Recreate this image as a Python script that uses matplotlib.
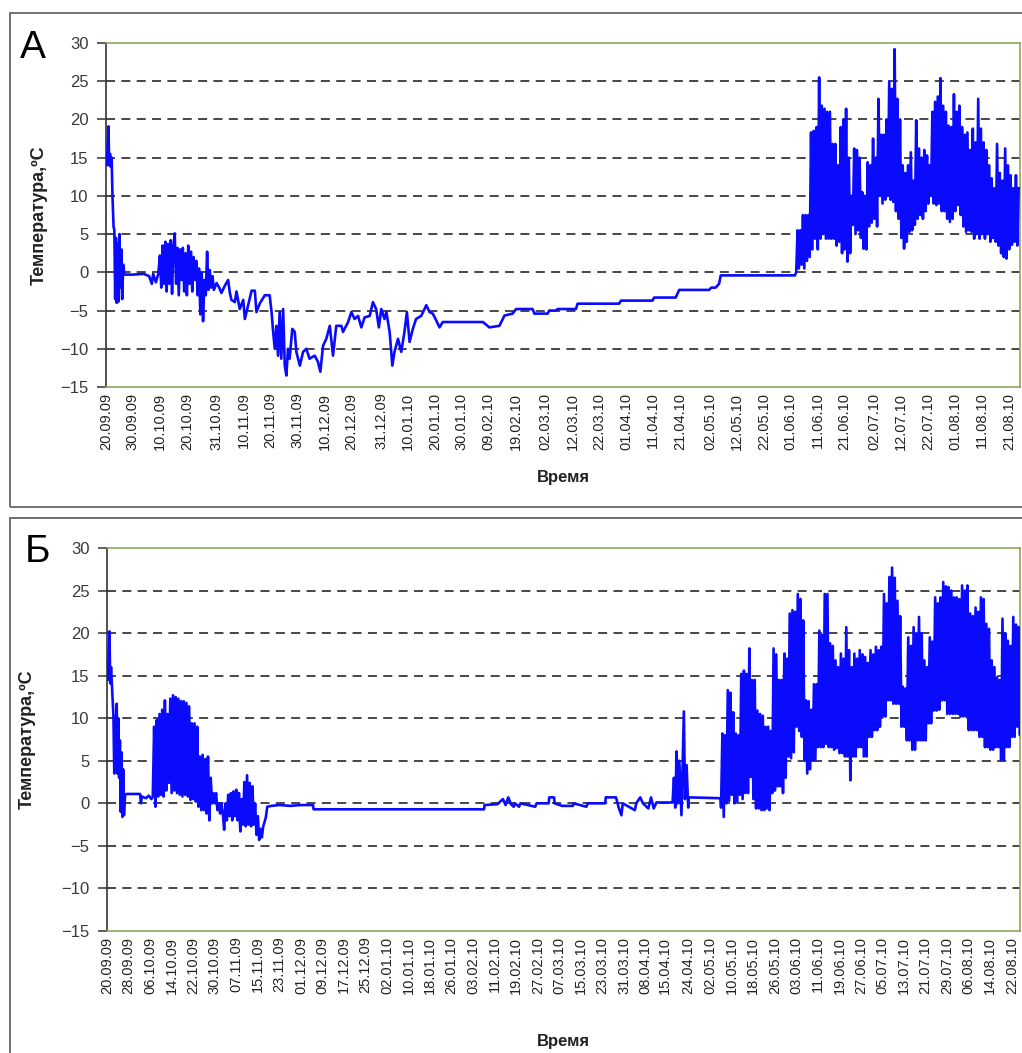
import matplotlib
matplotlib.use('Agg')
import matplotlib.pyplot as plt
from matplotlib.patches import Rectangle
import pandas as pd

plt.rcParams['font.family'] = ['Liberation Sans', 'DejaVu Sans']

START = pd.Timestamp('2009-09-20')
W, H = 1022, 1053

# ---- panel A: time in days since 20.09.09, temperature in C ----
a_days = [0.0, 0.3, 0.6, 0.9, 1.2, 1.5, 1.8, 2.1, 2.4, 2.8, 3.1, 3.4, 3.7, 4.0, 4.3, 4.7,
          5.0, 5.3, 5.7, 6.0, 6.4, 6.8, 10, 14, 16, 17, 17.5, 18.5, 19.4,
          20.0, 20.5, 21.0, 21.5, 22.0, 22.5, 23.0, 23.5, 24.0, 24.5, 25.0, 25.5, 26.0, 26.5,
          27.0, 27.5, 28.0, 28.5, 29.0, 29.5, 30.0, 30.5, 31.0, 31.5, 32.0, 32.5, 33.0, 33.5,
          34.0, 34.5, 35.0, 35.5, 36.0, 36.5, 37.0, 37.5, 38.0, 38.5, 39.0, 39.5, 40.0,
          41.0, 42.0, 42.8, 44.0, 45.3, 45.9, 46.5, 47.8, 48.4, 49.6, 50.9, 51.5, 52.7, 54.0,
          55.2, 55.8, 57.0, 58.9, 60.7, 61.4, 62.0, 62.6, 63.2, 63.8, 64.4, 65.0, 65.7, 66.3,
          66.9, 67.5, 68.1, 69.1, 70.0, 70.6, 71.9, 73.1, 74.3, 75.5, 77.4, 78.6, 79.5, 80.5,
          81.7, 83.0, 84.2, 85.4, 87.3, 87.9, 89.8, 91.0, 92.2, 93.5, 94.7, 95.9, 97.8, 99.0,
          100.2, 101.2, 102.1, 103.3, 104.0, 105.2, 106.2, 107.0, 108.3, 109.5, 110.7, 111.6,
          112.6, 113.8, 115.0, 116.9, 118.8, 120.0, 121.2, 122.5, 123.7, 124.9, 139.8, 142.2,
          145.9, 147.8, 150.8, 152.1, 158.2, 158.9, 163.8, 164.4, 166.9, 167.5, 174.3, 174.9,
          190.3, 191.0, 202.7, 203.3, 211.3, 212.6, 223.7, 224.5, 226.1, 227.4, 228.0, 255.5]
a_temp = [15.5, 14, 16, 19.1, 14, 15.5, 13.8, 15, 10, 6, 5.5, -3.5, 4.5, -4, 3.8, -3.8,
          5, -2, 3, -3.5, 1, -0.3, -0.3, -0.2, -0.5, -1.5, -0.2, -1.3, -0.2,
          2.2, -2, 3.5, -1.5, 4, -2.5, 3.7, -1.5, 4.2, -2.8, 3.5, 5.1, -1.5, 3.2,
          -3, 3, -1, 3.2, -2.5, 2.5, -3, 3.5, -1.5, 2.7, -2.5, 2, -1, 1.5,
          -3, 0.5, -5.5, 0, -6.4, -1, -3, 2.7, -2.3, 0.3, -2, -0.5, -2.3,
          -1.4, -2, -2.7, -1.8, -1, -2.6, -3.6, -3.9, -2.5, -4.8, -3.6, -6.1, -4.3, -2.4,
          -2.4, -5.2, -4.1, -3, -3, -5.2, -7.8, -10, -7, -10.9, -5.2, -11.3, -4.8, -12.2,
          -13.5, -10, -11.3, -7.4, -7.8, -10.4, -12.2, -10.4, -10, -11.3, -10.9, -11.7, -13, -9.6,
          -8.7, -7, -10.9, -7, -7, -7.8, -6.5, -5.2, -6.1, -5.7, -7.2, -5.9, -5.7, -3.9,
          -4.8, -7.2, -4.8, -6.1, -5.2, -7.8, -12.2, -10.4, -8.7, -10.4, -7.8, -5.2,
          -9.1, -7.4, -6.1, -5.7, -4.3, -5.2, -5.4, -6.3, -7.2, -6.5, -6.5, -7.2,
          -7, -5.65, -5.4, -4.8, -4.8, -5.4, -5.4, -5.0, -5.0, -4.8, -4.8, -4.1,
          -4.1, -3.7, -3.7, -3.3, -3.3, -2.3, -2.3, -2.0, -2.0, -1.5, -0.4, -0.4]
a_sum_start = 256
a_sum_hi = [5.5, 5.5, 7.5, 7.5, 7.5, 18.3, 18.5, 19, 25.5, 21.8,
            21.4, 21, 21, 16.8, 16.8, 14, 19, 20, 21.4, 15,
            10, 16.2, 16, 15, 10.5, 10, 14.4, 14, 17.5, 15,
            22.7, 18, 18, 20, 25, 24, 29.2, 22.7, 20, 14,
            13, 14, 15.7, 12, 19.9, 16.2, 15, 16, 15.3, 14,
            21, 22.3, 23, 25.4, 21.8, 21, 19.2, 19, 23.3, 21,
            21.8, 19, 18, 18.3, 16, 18.8, 17, 22.7, 18.8, 17,
            16, 14, 12.3, 11, 16.8, 13, 12, 16.2, 14, 12.7,
            11, 12.7, 11]
a_sum_lo = [0, 0.5, 1, 0.5, 1.5, 2, 3, 4.4, 3, 4.4,
            5, 4.4, 4.4, 4.4, 4.4, 3.5, 4, 2.5, 3, 1.4,
            2.5, 6.2, 5, 5.5, 4.5, 3.1, 3, 6, 6.5, 7,
            6, 10, 9, 9.5, 10, 9.5, 9.2, 8, 7, 4.5,
            3.1, 4, 5.3, 5.5, 6.2, 7, 7.5, 7, 8, 9,
            10, 9, 8.8, 9, 8, 8, 7, 6.6, 7, 8,
            8.8, 7.5, 6, 5.3, 5.5, 5.3, 4.4, 5, 4.4, 5,
            4.4, 5, 4, 4.5, 4, 3.5, 2.5, 2, 1.8, 3,
            3.6, 4, 3.5]
a_labels = ['20.09.09', '30.09.09', '10.10.09', '20.10.09', '31.10.09', '10.11.09', '20.11.09',
            '30.11.09', '10.12.09', '20.12.09', '31.12.09', '10.01.10', '20.01.10', '30.01.10',
            '09.02.10', '19.02.10', '02.03.10', '12.03.10', '22.03.10', '01.04.10', '11.04.10',
            '21.04.10', '02.05.10', '12.05.10', '22.05.10', '01.06.10', '11.06.10', '21.06.10',
            '02.07.10', '12.07.10', '22.07.10', '01.08.10', '11.08.10', '21.08.10']

# ---- panel B ----
b_days = [0.0, 0.3, 0.6, 0.9, 1.2, 1.5, 1.8, 2.1, 2.4, 2.7, 3.0, 3.3, 3.6, 3.9, 4.2, 4.5,
          4.8, 5.1, 5.4, 5.7, 6.0, 6.3, 6.7, 7.3, 12.3, 12.6, 12.9, 14.5, 15.5, 16.5, 17.0,
          17.5, 18.0, 18.5, 19.0, 19.5, 20.0, 20.5, 21.0, 21.5, 22.0, 22.5, 23.0, 23.5, 24.0,
          24.5, 25.0, 25.5, 26.0, 26.5, 27.0, 27.5, 28.0, 28.5, 29.0, 29.5, 30.0, 30.5, 31.0,
          31.5, 32.0, 32.5, 33.0, 33.5, 34.0, 34.5, 35.0, 35.5, 36.0, 36.5, 37.0, 37.5, 38.0,
          38.5, 39.0, 39.5, 40.0, 40.5, 41.0, 41.5, 42.0, 42.5, 43.0, 43.5, 44.0, 44.5, 45.0,
          45.5, 46.0, 46.5, 47.0, 47.5, 48.0, 48.5, 49.0, 49.5, 50.0, 50.5, 51.0, 51.5, 52.0,
          52.5, 53.0, 53.5, 54.0, 54.5, 55.0, 55.5, 56.0, 56.5, 57.0, 57.5, 58.0, 58.5, 59.0,
          59.5, 61, 64, 68, 72, 76.5, 76.7, 140, 140.2, 145, 147, 148, 149, 150, 151, 151.5,
          153, 153.5, 159, 159.5, 164, 164.2, 166, 166.2, 169, 173, 173.2, 178, 178.5, 185,
          185.2, 189, 190, 191, 191.5, 196, 196.5, 198, 199, 201, 202, 203, 204, 210, 210.5,
          211, 211.5, 212, 212.5, 213.3, 214.2, 214.6, 215.2, 215.8, 216, 227.8]
b_temp = [16.5, 14.5, 16.8, 20.2, 14.1, 16, 14, 12, 10.2, 3.5, 10.2, 4, 11.7, 3.5, 10, 3,
          7.4, -1, 6, -1.6, 4, -1.4, 1, 1.1, 1.1, 0, 0.8, 0.6, 0.9, 0.5, 0.8,
          9, -0.4, 9.8, 0.8, 10.5, 1.0, 11, 0.8, 12.1, 1.5, 10.5, 2.4, 12.3, 1.2,
          12.7, 1.5, 12.5, 1.2, 12.3, 1.0, 12, 0.8, 12, 1.0, 11.8, 0.8, 11.4, 0.4,
          9.4, 0.5, 9.4, 0.2, 9, -0.4, 5.5, -0.8, 5.7, -0.8, 5.2, -1.2, 5.5, -2,
          3, 0, 1.2, 0, 1.2, -0.8, 0, -1.2, 0, -1.2, -3.1, 0, -2, 1,
          -1.5, 1.2, -2, 1.4, -1.5, 1.6, -2, 1.2, -3.3, 0.5, -2.5, 2.5, -2.7, 3.3,
          -2.5, 2.4, -2.7, 2, -2.5, 0, -3.7, -1.5, -4.3, -3, -4, -2.7, -2.2, -1.6,
          -0.4, -0.3, -0.2, -0.3, -0.2, -0.2, -0.7, -0.7, -0.2, -0.1, 0.5, -0.2, 0.7, -0.1, -0.4, 0,
          -0.4, 0, -0.4, 0, 0, 0.7, 0.7, 0, -0.3, -0.3, 0, -0.4, 0, 0,
          0.7, 0.7, -0.5, -1.4, 0, -0.8, 0, 0.7, 0, -0.6, 0.7, -0.6, 0.1, 0.1, 3,
          -0.5, 6.1, 0, 5, -1.4, 10.8, 0.5, 4.5, -0.5, 0.7, 0.6]
b_sum_start = 228
b_sum_hi = [8.2, 8, 13.3, 13, 10.7, 8.2, 8, 15.2, 15.6, 15.2,
            18.2, 14.5, 14.5, 10.9, 10.5, 10.3, 9, 9, 8.5, 18.2,
            17.5, 14.5, 14.5, 17.6, 17, 22.3, 22.7, 22.5, 24.6, 24,
            21.5, 12.1, 12, 11, 14, 14, 20.3, 19.8, 24.6, 24.6,
            18.8, 18.5, 16.8, 16, 17.6, 17, 20.7, 18, 16, 17.6,
            17, 18, 17.5, 17.2, 16.5, 18, 17.5, 18.4, 18, 18.4,
            24.6, 23.5, 26.6, 27.7, 26.5, 23.8, 22, 13.7, 13.5, 19.5,
            18.5, 20.7, 20, 21.9, 20, 16.8, 16, 19.5, 19, 24.2,
            23.5, 24.2, 26, 25.5, 25.4, 25, 24.2, 24.2, 24, 25.6,
            25, 25.6, 22.3, 22, 23, 22.5, 24.2, 24, 21.1, 20.5,
            16.8, 16, 14.8, 14.5, 21.7, 20, 19.1, 18.5, 21.9, 21,
            20.7, 19]
b_sum_lo = [-0.5, -1.6, 0, 0.3, 1, 0, 0.2, 1, 0.5, 1.2,
            1.2, 3.1, 0.5, -0.6, -0.6, -0.8, -0.8, -0.6, -0.8, 1.2,
            1.5, 2, 2, 1.2, 3, 5.5, 5.3, 6, 9, 8.5,
            7.8, 5.1, 3.5, 4, 5, 5.1, 6.6, 6.6, 6.6, 7,
            6.6, 6.6, 6.3, 6.5, 5.9, 5.9, 5.5, 5.5, 2.7, 5.5,
            5.5, 6.6, 6.6, 5.5, 5.5, 7.8, 7.8, 8.6, 8.6, 9,
            10.2, 10.2, 12.1, 12.1, 11.7, 11.7, 11.7, 9, 9, 7.4,
            7.4, 6.3, 6.3, 7.4, 7.4, 7.4, 7.4, 9.4, 9.4, 10.9,
            10.9, 11, 12.1, 12.1, 10.5, 10.5, 10.5, 10.5, 10.5, 10.2,
            10.2, 10.2, 8.6, 8.6, 8.6, 8.6, 7.8, 7.8, 6.6, 6.6,
            6.3, 6.3, 6.6, 6.6, 5.1, 5.1, 6.6, 6.6, 7.8, 7.8,
            9, 8]
b_labels = ['20.09.09', '28.09.09', '06.10.09', '14.10.09', '22.10.09', '30.10.09', '07.11.09',
            '15.11.09', '23.11.09', '01.12.09', '09.12.09', '17.12.09', '25.12.09', '02.01.10',
            '10.01.10', '18.01.10', '26.01.10', '03.02.10', '11.02.10', '19.02.10', '27.02.10',
            '07.03.10', '15.03.10', '23.03.10', '31.03.10', '08.04.10', '15.04.10', '24.04.10',
            '02.05.10', '10.05.10', '18.05.10', '26.05.10', '03.06.10', '11.06.10', '19.06.10',
            '27.06.10', '05.07.10', '13.07.10', '21.07.10', '29.07.10', '06.08.10', '14.08.10',
            '22.08.10']

grid_vals = [-10, -5, 0, 5, 10, 15, 20, 25]


def build(days, temps, start, hi, lo):
    t, v = list(days), list(temps)
    for i, (h, l) in enumerate(zip(hi, lo)):
        t += [start + i, start + i + 0.5]
        v += [l, h]
    return t, v


def label_days(labels):
    d = pd.to_datetime(labels, format='%d.%m.%y')
    return list((d - START).days)


def draw_panel(ax, t, v, labels, ylab_x, xlab_y):
    ax.plot(t, v, color='#0a0aff', lw=1.9, zorder=3)
    for g in grid_vals:
        ax.axhline(g, color='#383838', lw=1.3, dashes=(5, 3.5), zorder=1)
    ax.set_xlim(0, 339)
    ax.set_ylim(-15, 30)
    ax.set_yticks(range(-15, 31, 5))
    ax.set_xticks(label_days(labels))
    ax.set_xticklabels(labels, rotation=90, fontsize=10.5, color='#222222')
    ax.tick_params(axis='x', length=0, pad=4)
    ax.tick_params(axis='y', length=6.5, width=1.1, color='#333333', pad=6,
                   labelsize=12, labelcolor='#3a3a3a')
    for s in ['top', 'right', 'bottom']:
        ax.spines[s].set_color('#8aa860')
        ax.spines[s].set_linewidth(1.2)
    ax.spines['left'].set_color('#333333')
    ax.spines['left'].set_linewidth(1.2)
    ax.set_ylabel('Температура,ºC', fontsize=13, fontweight='bold', color='#222222')
    ax.yaxis.set_label_coords(ylab_x, 0.5)
    ax.set_xlabel('Время', fontsize=12, fontweight='bold', color='#222222')
    ax.xaxis.set_label_coords(0.5, xlab_y)


fig = plt.figure(figsize=(W / 100, H / 100), dpi=100)

# panel frames
fig.add_artist(Rectangle((9.5 / W, 1 - 506.5 / H), 1.1, (506.5 - 13) / H,
                         transform=fig.transFigure, fill=False, ec='#666666', lw=1.3))
fig.add_artist(Rectangle((9.5 / W, -0.1), 1.1, 0.1 + 1 - 518 / H,
                         transform=fig.transFigure, fill=False, ec='#666666', lw=1.3))

axA = fig.add_axes([106 / W, 1 - 387 / H, 914 / W, 344 / H])
tA, vA = build(a_days, a_temp, a_sum_start, a_sum_hi, a_sum_lo)
draw_panel(axA, tA, vA, a_labels, -0.064, -0.241)

axB = fig.add_axes([107 / W, 1 - 931 / H, 913 / W, 383 / H])
tB, vB = build(b_days, b_temp, b_sum_start, b_sum_hi, b_sum_lo)
draw_panel(axB, tB, vB, b_labels, -0.078, -0.27)

fig.text(20 / W, 1 - 58 / H, 'А', fontsize=28, ha='left', va='baseline')
fig.text(25 / W, 1 - 562 / H, 'Б', fontsize=28, ha='left', va='baseline')

fig.savefig('out.png', dpi=100)
